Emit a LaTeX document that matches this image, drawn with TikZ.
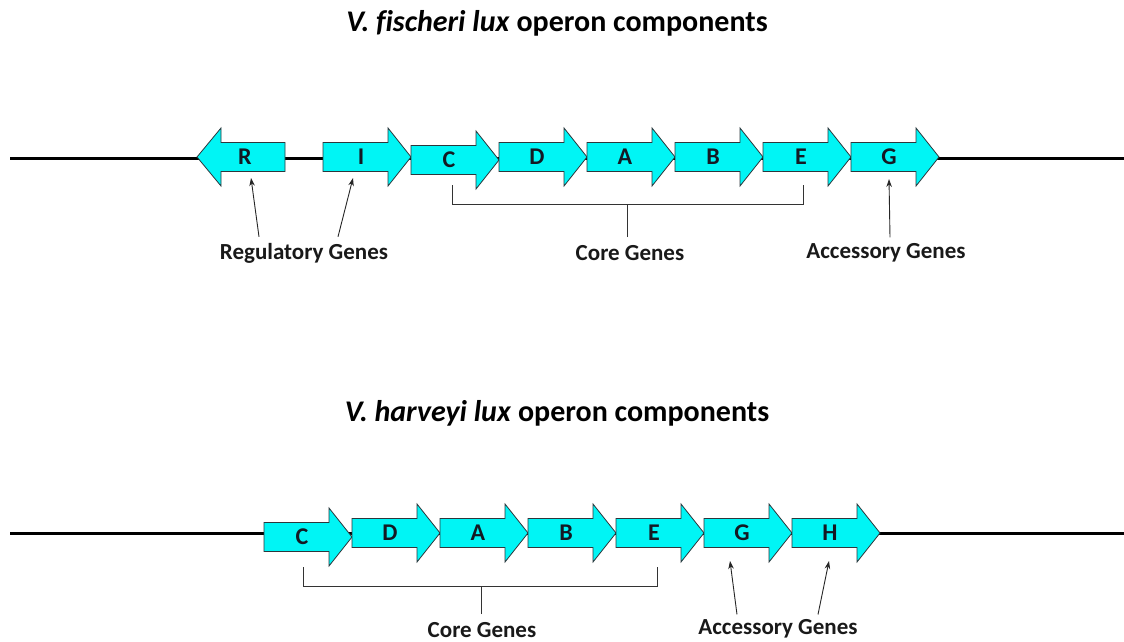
\documentclass[tikz,border=0pt]{standalone}
\usepackage{fontspec}
\setmainfont{Carlito}[Ligatures=NoCommon]
\usetikzlibrary{arrows.meta}
\definecolor{genefill}{RGB}{0,245,245}
\definecolor{geneline}{RGB}{45,55,60}
\definecolor{lettercol}{RGB}{20,25,35}
\tikzset{
  genebox/.style={fill=genefill, draw=geneline, line width=0.8pt, line join=miter},
  geneletter/.style={font=\fontsize{24}{28}\selectfont\bfseries, text=lettercol, inner sep=0pt},
  dnaline/.style={line width=3pt, black},
  bracketline/.style={line width=0.8pt, black!80},
  ptr/.style={line width=0.9pt, black!85, -{Stealth[length=8pt,width=5.5pt]}},
  glabel/.style={font=\fontsize{23}{26}\selectfont\bfseries, inner sep=0pt, text=black!90},
  ttl/.style={font=\fontsize{30}{34}\selectfont\bfseries, inner sep=0pt}
}
\newcommand\rgene[4]{%
  \draw[genebox] (#2,#3-14.5) -- (#2+65,#3-14.5) -- (#2+65,#3-29) -- (#2+88,#3) -- (#2+65,#3+29) -- (#2+65,#3+14.5) -- (#2,#3+14.5) -- cycle;
  \node[geneletter] (#1) at (#2+38,#3) {#4};
}
\newcommand\lgene[4]{%
  \draw[genebox] (#2,#3-14.5) -- (#2-64,#3-14.5) -- (#2-64,#3-29) -- (#2-88,#3) -- (#2-64,#3+29) -- (#2-64,#3+14.5) -- (#2,#3+14.5) -- cycle;
  \node[geneletter] (#1) at (#2-40,#3) {#4};
}
\begin{document}
\begin{tikzpicture}[x=1pt,y=-1pt]
\useasboundingbox[fill=white] (0,0) rectangle (1124,642);

% ---------- V. fischeri ----------
\node[ttl] (t1) at (557,23) {\textit{V. fischeri lux} operon components};
\coordinate (l1a) at (10,158);
\coordinate (l1b) at (1124,158);
\draw[dnaline] (l1a) -- (l1b);
\lgene{fR}{285}{157}{R}
\rgene{fI}{323}{157}{I}
\rgene{fC}{411}{160}{C}
\rgene{fD}{499}{157}{D}
\rgene{fA}{587}{157}{A}
\rgene{fB}{675}{157}{B}
\rgene{fE}{763}{157}{E}
\rgene{fG}{851}{157}{G}

\node[glabel] (reg1) at (304,253) {Regulatory Genes};
\node[glabel] (core1) at (630,253) {Core Genes};
\node[glabel] (acc1) at (886,253) {Accessory Genes};

\coordinate (pR) at (251,178);
\coordinate (pI) at (353,178);
\coordinate (pG1) at (889,179);
\draw[ptr] ([xshift=-45pt,yshift=6pt]reg1.north) -- (pR);
\draw[ptr] ([xshift=34pt,yshift=6pt]reg1.north) -- (pI);
\draw[ptr] ([xshift=4pt,yshift=6pt]acc1.north) -- (pG1);

\coordinate (b1l) at (452,185);
\coordinate (b1r) at (803,185);
\draw[bracketline] (b1l) -- ++(0,19) -| (b1r);
\draw[bracketline] ([yshift=8pt]core1.north -| 627,0) -- (627,204);

% ---------- V. harveyi ----------
\node[ttl] (t2) at (557,413) {\textit{V. harveyi lux} operon components};
\coordinate (l2a) at (10,533);
\coordinate (l2b) at (1124,533);
\draw[dnaline] (l2a) -- (l2b);
\rgene{hC}{264}{537}{C}
\rgene{hD}{352}{533}{D}
\rgene{hA}{440}{533}{A}
\rgene{hB}{528}{533}{B}
\rgene{hE}{616}{533}{E}
\rgene{hG}{704}{533}{G}
\rgene{hH}{792}{533}{H}

\node[glabel] (core2) at (482,630) {Core Genes};
\node[glabel] (acc2) at (778,629) {Accessory Genes};

\coordinate (pG2) at (730,561);
\coordinate (pH2) at (829,561);
\draw[ptr] ([xshift=-41pt,yshift=5pt]acc2.north) -- (pG2);
\draw[ptr] ([xshift=40pt,yshift=5pt]acc2.north) -- (pH2);

\coordinate (b2l) at (303,567);
\coordinate (b2r) at (657,567);
\draw[bracketline] (b2l) -- ++(0,19) -| (b2r);
\draw[bracketline] ([yshift=8pt]core2.north -| 481,0) -- (481,586);
\end{tikzpicture}
\end{document}
